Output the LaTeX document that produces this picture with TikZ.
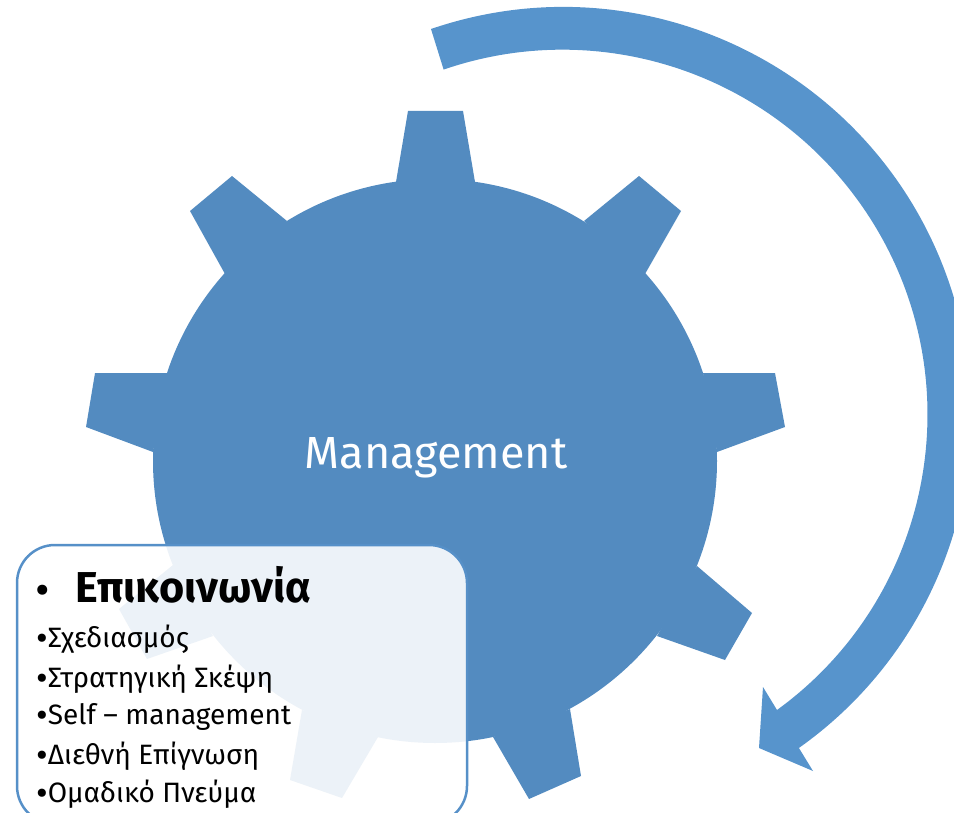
\documentclass[tikz,border=0pt]{standalone}
\usepackage{fontspec}
\setmainfont{Fira Sans}
\definecolor{gearblue}{RGB}{83, 139, 192}
\definecolor{arrowblue}{RGB}{87, 148, 204}
\definecolor{boxline}{RGB}{86, 144, 200}
\newcommand{\itemdot}{\raisebox{-3pt}{\fontsize{36}{36}\selectfont •}}
\tikzset{
    tooth/.style={fill=gearblue},
    itemtext/.style={anchor=base west, inner sep=0pt, font=\fontsize{28}{28}\selectfont, color=black},
}

\begin{document}
\begin{tikzpicture}[x=1pt, y=-1pt]
            \useasboundingbox (0,0) rectangle (954,813);
            \clip (0,0) rectangle (954,813);
            % round arrow
            \fill[arrowblue] (431,29) arc[start angle=108.9, end angle=-54.7, radius=408pt]
                 -- (813,771) -- (759,748) -- (763,687) -- (777,710)
                 arc[start angle=-54, end angle=109, radius=365pt] -- cycle;
            % gear
            \fill[gearblue] (435,461) circle (282pt);
            \fill[tooth] (408,111) -- (463,111) -- (475,182) -- (396,182) -- cycle;
            \fill[tooth] (639,176) -- (681,211) -- (645,274) -- (584,221) -- cycle;
            \fill[tooth] (775,373) -- (785,427) -- (717,452) -- (703,373) -- cycle;
            \fill[tooth] (752,613) -- (725,660) -- (657,636) -- (697,566) -- cycle;
            \fill[tooth] (581,776) -- (529,799) -- (493,737) -- (570,709) -- cycle;
            \fill[tooth] (302,710) -- (290,780) -- (342,798) -- (378,737) -- cycle;
            \fill[tooth] (173,565) -- (119,609) -- (147,659) -- (213,636) -- cycle;
            \fill[tooth] (168,373) -- (95,373)  -- (86,427)  -- (153,452) -- cycle;
            \fill[tooth] (190,211) -- (232,176) -- (287,221) -- (225,274) -- cycle;
            \node (management) [color=white, font=\fontsize{45}{45}\selectfont] at (436,458) {Management};
            % text box
            \node (skillsbox) [anchor=north west, rectangle, rounded corners=38pt, draw=boxline, line width=2.5pt,
                 fill=white, fill opacity=0.89, draw opacity=1, outer sep=0pt, minimum width=450pt, minimum height=279pt] at (17,545) {};
            \node (titlebullet) [itemtext, font=\fontsize{36}{36}\selectfont\bfseries] at (36,602) {•};
            \node (title)    [itemtext, font=\fontsize{43.2}{44}\selectfont\bfseries] at (75,602) {Επικοινωνία};
            \node (planning) [itemtext] at (36,647) {\itemdot Σχεδιασμός};
            \node (strategy) [itemtext] at (36,687) {\itemdot Στρατηγική Σκέψη};
            \node (selfmgmt) [itemtext] at (36,724) {\itemdot Self – management};
            \node (global)   [itemtext] at (36,764) {\itemdot Διεθνή Επίγνωση};
            \node (team)     [itemtext] at (36,802) {\itemdot Ομαδικό Πνεύμα};
        \end{tikzpicture}
\end{document}
